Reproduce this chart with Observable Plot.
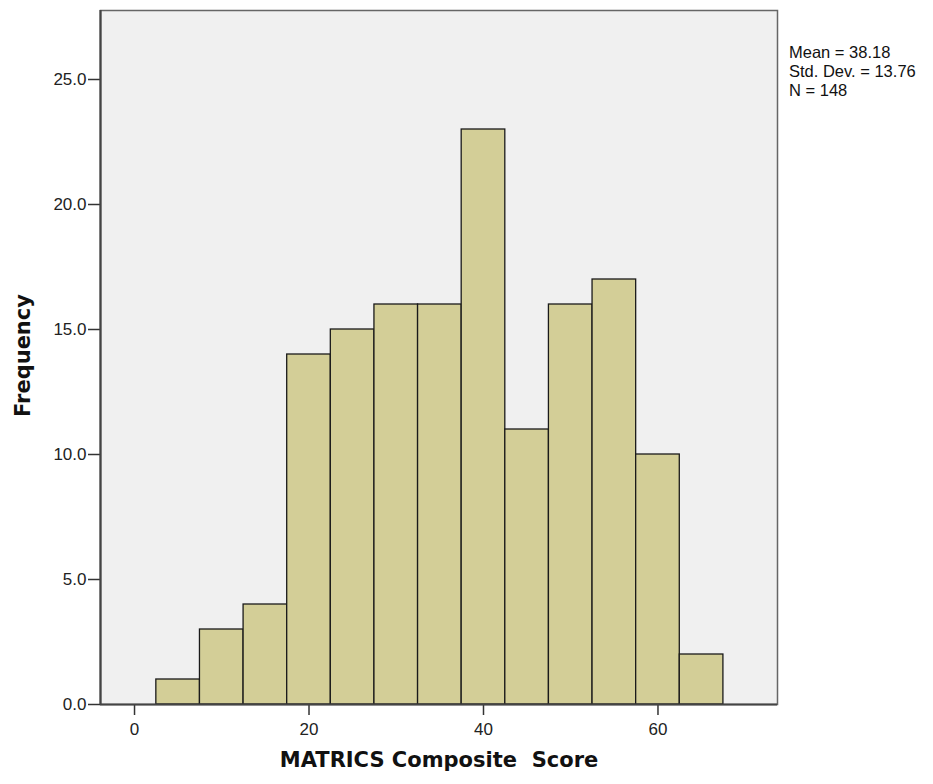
<!DOCTYPE html>
<html>
<head>
<meta charset="utf-8">
<script src="https://cdn.jsdelivr.net/npm/d3@7"></script>
<script src="https://cdn.jsdelivr.net/npm/@observablehq/plot@0.6"></script>
<style>
  body { margin: 0; background: #fff; font-family: "Liberation Sans", Arial, sans-serif; }
  #wrap { position: relative; width: 933px; height: 784px; }
  #stats { position: absolute; left: 789px; top: 43px; font-size: 16.5px; line-height: 19px; color: #111; white-space: nowrap; }
</style>
</head>
<body>
<div id="wrap">
  <div id="chart"></div>
  <div id="stats">Mean = 38.18<br>Std. Dev. = 13.76<br>N = 148</div>
</div>
<script>
// Histogram bins (width 5) and their counts
const binLow  = [2.5, 7.5, 12.5, 17.5, 22.5, 27.5, 32.5, 37.5, 42.5, 47.5, 52.5, 57.5, 62.5];
const binHigh = [7.5, 12.5, 17.5, 22.5, 27.5, 32.5, 37.5, 42.5, 47.5, 52.5, 57.5, 62.5, 67.5];
const counts  = [1, 3, 4, 14, 15, 16, 16, 23, 11, 16, 17, 10, 2];
const xTicks = [0, 20, 40, 60];
const yTicks = [0, 5, 10, 15, 20, 25];
const xTitle = "MATRICS Composite  Score";
const yTitle = "Frequency";

const bins = binLow.map((lo, i) => ({lo, hi: binHigh[i], n: counts[i]}));
const titleFont = "DejaVu Sans, Verdana, sans-serif";

const chart = Plot.plot({
  width: 933,
  height: 784,
  marginLeft: 100,
  marginRight: 156,
  marginTop: 10,
  marginBottom: 80,
  style: {fontFamily: "Liberation Sans, Arial, sans-serif", fontSize: "17px", color: "#222", background: "#fff"},
  x: {domain: [-3.9, 73.7]},
  y: {domain: [0, 27.76]},
  marks: [
    Plot.frame({fill: "#f0f0f0", stroke: "#666", strokeWidth: 1.5}),
    Plot.rectY(bins, {x1: "lo", x2: "hi", y: "n", fill: "#d3ce97", stroke: "#1a1a1a", strokeWidth: 1.3}),
    Plot.axisX({ticks: xTicks, tickSize: 11, tickPadding: 7, tickFormat: d => d, label: null, stroke: "#333", strokeWidth: 1.5}),
    Plot.axisY({ticks: yTicks, tickSize: 12, tickPadding: 2, tickFormat: d3.format(".1f"), label: null, stroke: "#333", strokeWidth: 1.5}),
    Plot.ruleX([-3.9], {stroke: "#444", strokeWidth: 2.2}),
    Plot.ruleY([0], {stroke: "#444", strokeWidth: 2}),
    Plot.text([xTitle], {frameAnchor: "bottom", dy: 62.5, fontSize: 21, fontWeight: "bold", fontFamily: titleFont, fill: "#111"}),
    Plot.text([yTitle], {frameAnchor: "left", textAnchor: "middle", dx: -77, dy: -2, rotate: -90, fontSize: 21, fontWeight: "bold", fontFamily: titleFont, fill: "#111"})
  ]
});
document.getElementById("chart").appendChild(chart);
</script>
</body>
</html>
